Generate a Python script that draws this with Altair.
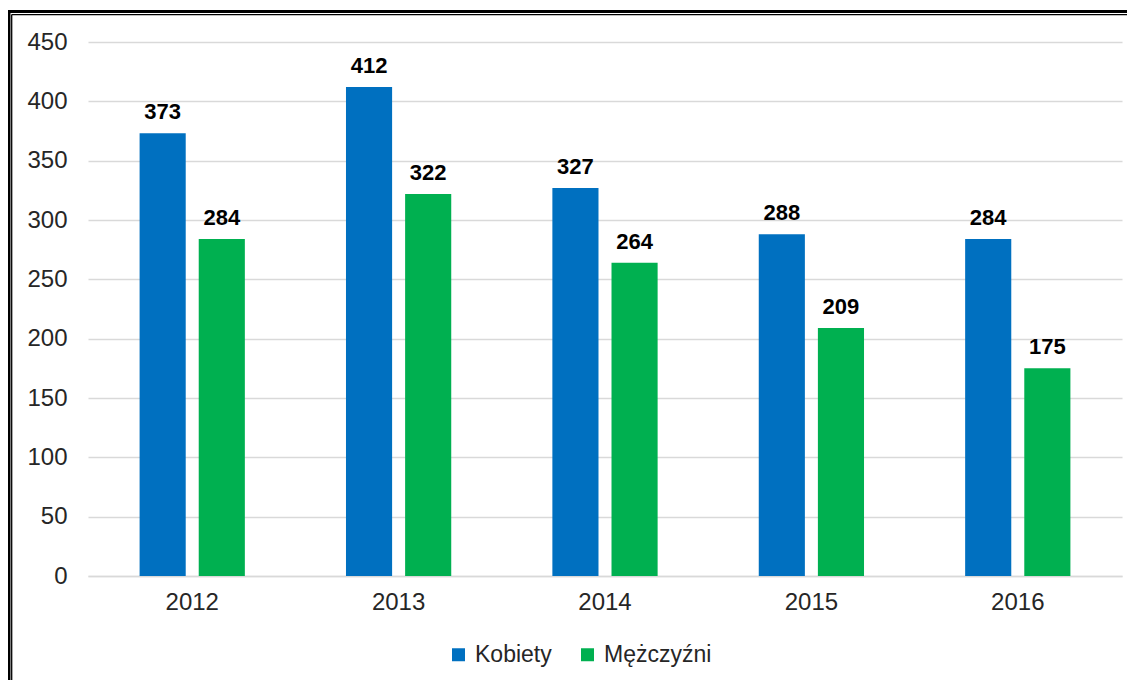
import altair as alt
import pandas as pd

years = ["2012", "2013", "2014", "2015", "2016"]
series = ["Kobiety", "Mężczyźni"]
kobiety = [373, 412, 327, 288, 284]
mezczyzni = [284, 322, 264, 209, 175]
colors = ["#0070c0", "#00b050"]
y_ticks = [0, 50, 100, 150, 200, 250, 300, 350, 400, 450]

rows = []
for i, yr in enumerate(years):
    rows.append({"rok": yr, "płeć": series[0], "wartość": kobiety[i]})
    rows.append({"rok": yr, "płeć": series[1], "wartość": mezczyzni[i]})
df = pd.DataFrame(rows)

FONT = "Liberation Sans"
W, H = 1034, 534
PR, PB = 5, 104

x_enc = alt.X("rok:N", sort=years, title=None,
              scale=alt.Scale(paddingInner=0.49, paddingOuter=0.25),
              axis=alt.Axis(labelAngle=0, ticks=False, domainColor="#d9d9d9",
                            domainWidth=1.5, labelFontSize=24, labelFont=FONT,
                            labelColor="#262626", labelPadding=14, grid=False))
xo_enc = alt.XOffset("płeć:N", sort=series,
                     scale=alt.Scale(paddingInner=0.22, paddingOuter=0))
y_enc = alt.Y("wartość:Q", title=None,
              scale=alt.Scale(domain=[0, 450], nice=False),
              axis=alt.Axis(values=y_ticks, domain=False, ticks=False,
                            gridColor="#d9d9d9", gridWidth=1.5,
                            labelFontSize=24, labelFont=FONT,
                            labelColor="#262626", labelPadding=21))
color_enc = alt.Color("płeć:N", sort=series,
                      scale=alt.Scale(domain=series, range=colors),
                      legend=alt.Legend(title=None, orient="none",
                                        direction="horizontal",
                                        legendX=359, legendY=601,
                                        symbolType="square", symbolSize=169,
                                        symbolStrokeWidth=0,
                                        labelFontSize=23, labelFont=FONT,
                                        labelColor="#262626",
                                        labelOffset=5, columnPadding=24))

base = alt.Chart(df)
bars = base.mark_bar().encode(x=x_enc, xOffset=xo_enc, y=y_enc, color=color_enc)
labels = base.mark_text(dy=-14, baseline="alphabetic", fontWeight="bold",
                        fontSize=22, font=FONT, color="black").encode(
    x=alt.X("rok:N", sort=years), xOffset=alt.XOffset("płeć:N", sort=series),
    y="wartość:Q", text="wartość:Q")

one = pd.DataFrame({"a": [0]})
bd = alt.Chart(one)
top_thick = bd.mark_rule(color="black", strokeWidth=3).encode(
    x=alt.value(-80), x2=alt.value(W + PR), y=alt.value(-30.6))
top_thin = bd.mark_rule(color="black", strokeWidth=1.3).encode(
    x=alt.value(-76.5), x2=alt.value(W + PR), y=alt.value(-27.3))
left_thick = bd.mark_rule(color="black", strokeWidth=3).encode(
    x=alt.value(-79), y=alt.value(-32), y2=alt.value(H + PB))
left_thin = bd.mark_rule(color="black", strokeWidth=1.3).encode(
    x=alt.value(-76.3), y=alt.value(-27.3), y2=alt.value(H + PB))

chart = alt.layer(bars, labels, top_thick, top_thin, left_thick, left_thin).properties(
    width=W, height=H,
    padding={"left": 80, "top": 34, "right": PR, "bottom": PB},
    autosize=alt.AutoSizeParams(type="none"),
    background="white",
).configure_view(stroke=None)

chart.save("out.html", embed_options={"renderer": "svg", "actions": False})
